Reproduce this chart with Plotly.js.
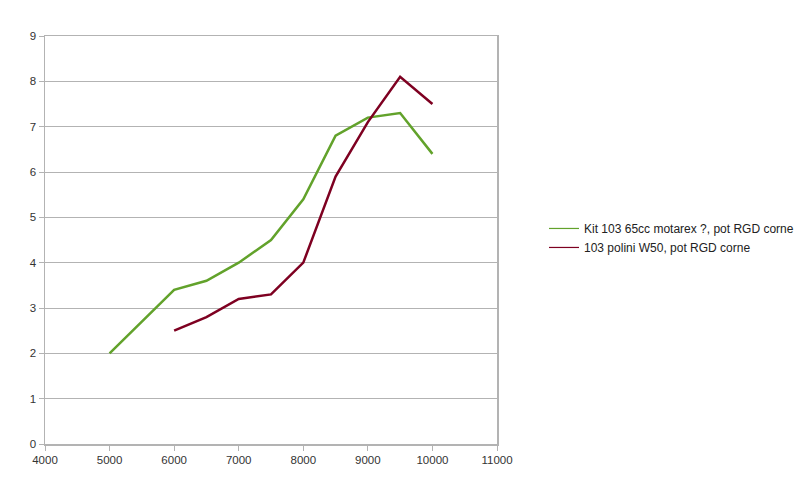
<!DOCTYPE html>
<html>
<head>
<meta charset="utf-8">
<script src="https://cdn.plot.ly/plotly-3.0.1.min.js"></script>
<style>html,body{margin:0;padding:0;background:#fff}#chart{width:812px;height:485px}</style>
</head>
<body>
<div id="chart"></div>
<script>
var rpmKit = [5000, 6000, 6500, 7000, 7500, 8000, 8500, 9000, 9500, 10000];
var kitValues = [2, 3.4, 3.6, 4, 4.5, 5.4, 6.8, 7.2, 7.3, 6.4];
var rpmPolini = [6000, 6500, 7000, 7500, 8000, 8500, 9000, 9500, 10000];
var poliniValues = [2.5, 2.8, 3.2, 3.3, 4, 5.9, 7.1, 8.1, 7.5];
var seriesNames = ["Kit 103 65cc motarex ?, pot RGD corne", "103 polini W50, pot RGD corne"];
var seriesColors = ["#62a22b", "#7e0021"];
var xTicks = [4000, 5000, 6000, 7000, 8000, 9000, 10000, 11000];
var yTicks = [0, 1, 2, 3, 4, 5, 6, 7, 8, 9];

var traces = [
  {x: rpmKit, y: kitValues, name: seriesNames[0], mode: "lines", type: "scatter",
   showlegend: false, line: {color: seriesColors[0], width: 2.5}},
  {x: rpmPolini, y: poliniValues, name: seriesNames[1], mode: "lines", type: "scatter",
   showlegend: false, line: {color: seriesColors[1], width: 2.5}},
  // legend entries with thin sample lines (no data drawn)
  {x: [null], y: [null], name: seriesNames[0], mode: "lines", type: "scatter",
   line: {color: seriesColors[0], width: 1.2}, hoverinfo: "skip"},
  {x: [null], y: [null], name: seriesNames[1], mode: "lines", type: "scatter",
   line: {color: seriesColors[1], width: 1.2}, hoverinfo: "skip"}
];

var layout = {
  width: 812, height: 485,
  margin: {l: 45, r: 315, t: 36, b: 41},
  paper_bgcolor: "#fff", plot_bgcolor: "#fff",
  font: {family: "Liberation Sans, Arial, sans-serif", size: 11, color: "#333"},
  showlegend: true,
  legend: {x: 1.104, xanchor: "left", y: 0.505, yanchor: "middle",
           font: {size: 12, color: "#222"}, bgcolor: "rgba(0,0,0,0)",
           itemwidth: 30, tracegroupgap: 0},
  xaxis: {range: [4000, 11000], tickvals: xTicks, ticktext: xTicks.map(String),
          showgrid: false, zeroline: false, showline: true, linecolor: "#b3b3b3",
          linewidth: 1.5, mirror: true, ticks: "outside", ticklen: 5, tickcolor: "#b3b3b3",
          tickfont: {size: 11.5, color: "#333"}},
  yaxis: {range: [0, 9], tickvals: yTicks, showgrid: true, gridcolor: "#b3b3b3",
          gridwidth: 1, zeroline: false, showline: true, linecolor: "#b3b3b3",
          linewidth: 1.5, mirror: true, ticks: "outside", ticklen: 5, tickcolor: "#b3b3b3",
          tickfont: {size: 11.5, color: "#333"}}
};

Plotly.newPlot("chart", traces, layout, {staticPlot: true, displayModeBar: false});
</script>
</body>
</html>
